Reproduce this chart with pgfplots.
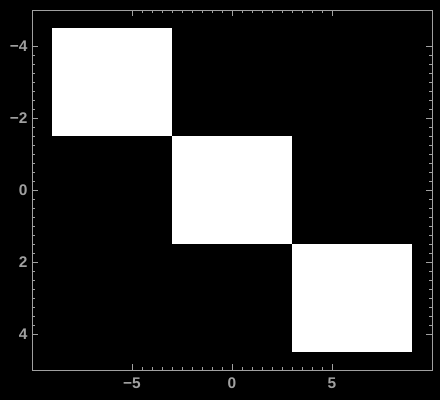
\documentclass[border=0pt]{standalone}
\usepackage{pgfplots}
\pgfplotsset{compat=1.18}
\usepackage{fontspec}
\setmainfont{Liberation Sans}
\definecolor{axgray}{HTML}{A0A0A0}
\begin{document}
\begin{tikzpicture}[x=1bp,y=1bp]
\path[use as bounding box, fill=black] (-32,-30) rectangle (408,370);
\begin{axis}[
  at={(0,0)}, anchor=south west,
  scale only axis, width=400bp, height=360bp,
  xmin=-10, xmax=10, ymin=-5, ymax=5,
  y dir=reverse,
  axis background/.style={fill=black},
  axis line style={axgray, line width=0.8pt},
  xtick={-5,0,5}, xticklabels={−5,0,5},
  ytick={-4,-2,0,2,4}, yticklabels={−4,−2,0,2,4},
  minor x tick num=9, minor y tick num=7,
  tick align=inside,
  major tick length=6bp, minor tick length=3bp,
  tick style={axgray, line width=0.8pt},
  every tick label/.append style={text=axgray, font=\fontsize{15.5}{15.5}\selectfont\bfseries},
  xticklabel style={yshift=-4bp},
  yticklabel style={xshift=-1bp},
]
\addplot[fill=white, draw=none] coordinates {(-9,-4.5) (-3,-4.5) (-3,-1.5) (-9,-1.5)} -- cycle;
\addplot[fill=white, draw=none] coordinates {(-3,-1.5) (3,-1.5) (3,1.5) (-3,1.5)} -- cycle;
\addplot[fill=white, draw=none] coordinates {(3,1.5) (9,1.5) (9,4.5) (3,4.5)} -- cycle;
\end{axis}
\end{tikzpicture}
\end{document}
